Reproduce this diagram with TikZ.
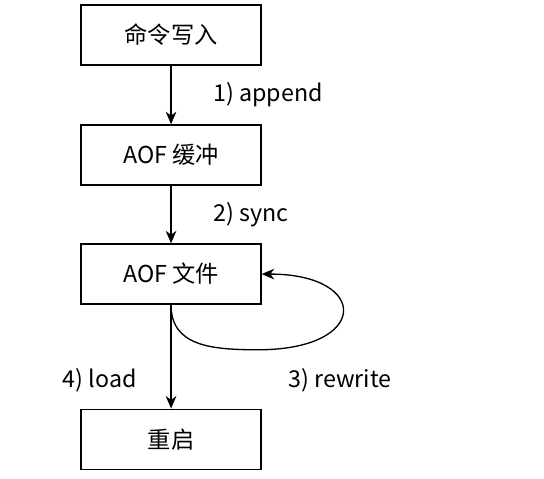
\documentclass[tikz,border=0pt]{standalone}
\usepackage{fontspec}
\setmainfont{Noto Sans CJK SC}
\usetikzlibrary{positioning, arrows.meta, calc}

\begin{document}
\begin{tikzpicture}[
  font=\fontsize{17.5}{21}\selectfont,
  box/.style={draw=black, fill=white, line width=1pt, minimum width=4.76cm,
    minimum height=1.59cm, inner sep=3pt},
  flow/.style={-{Stealth[length=3.3mm, width=2.8mm, inset=1mm]}, line width=1pt, draw=black},
  lbl/.style={inner sep=0pt}
]
\useasboundingbox (0,0) rectangle (14.39,-12.65);

% the chain of stages
\node[box] (cmd) at (4.525,-0.926) {命令写入};
\node[box] (buf) at (4.525,-4.10)  {AOF 缓冲};
\node[box] (fil) at (4.525,-7.25)  {AOF 文件};
\node[box] (restart) at (4.525,-11.62) {重启};

\draw[flow] (cmd) -- (buf) node[midway, lbl, anchor=west, xshift=1.1cm] {1) append};
\draw[flow] (buf) -- (fil) node[midway, lbl, anchor=west, xshift=1.1cm] {2) sync};
\draw[flow] (fil) -- (restart);

% rewrite loop back onto the file
\coordinate (loopbot) at ($(fil.south)+(2.3,-1.19)$);
\draw[flow] (fil.south) .. controls ($(fil.south)+(0,-1.08)$) and ($(loopbot)+(-1.27,0)$) .. (loopbot)
  .. controls ($(loopbot)+(2.97,0)$) and ($(fil.east)+(2.86,0)$) .. (fil.east);

\node[lbl, anchor=east] (load) at (3.625,-10.05) {4) load};
\node[lbl, anchor=west] (rewrite) at (7.62,-10.05) {3) rewrite};

\end{tikzpicture}
\end{document}
